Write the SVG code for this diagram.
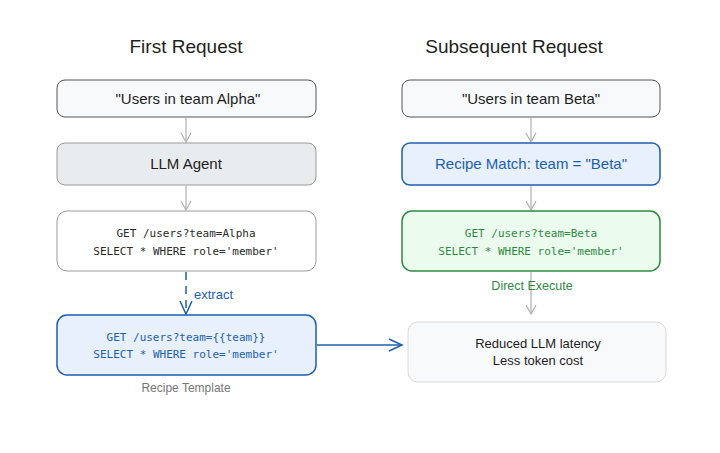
<svg xmlns="http://www.w3.org/2000/svg" width="720" height="453" viewBox="0 0 720 453">
<defs>
<style>
.hand{font-family:"Liberation Sans","DejaVu Sans",sans-serif;fill:#1e1e1e}
.mono{font-family:"DejaVu Sans Mono","Liberation Mono",monospace;font-size:11px}
.title{font-size:19px}
.lbl{font-size:15px}
.small{font-size:12px}
.gr{stroke:#b0b0b0;stroke-width:1.2;fill:none}
</style>
<marker id="ag" markerWidth="12" markerHeight="14" refX="10" refY="7" orient="auto" markerUnits="userSpaceOnUse">
<path d="M1,2 L10,7 L1,12" fill="none" stroke="#b0b0b0" stroke-width="1.2"/>
</marker>
<marker id="ab" markerWidth="16" markerHeight="16" refX="14" refY="8" orient="auto" markerUnits="userSpaceOnUse">
<path d="M1,2 L14,8 L1,14" fill="none" stroke="#1e5fae" stroke-width="1.5"/>
</marker>
</defs>
<rect width="720" height="453" fill="#ffffff"/>
<text class="hand title" x="186" y="53" text-anchor="middle">First Request</text>
<text class="hand title" x="514" y="53" text-anchor="middle">Subsequent Request</text>

<g id="connectors">
<line class="gr" x1="186" y1="118" x2="186" y2="142" marker-end="url(#ag)"/>
<line class="gr" x1="186" y1="186" x2="186" y2="210" marker-end="url(#ag)"/>
<line x1="186" y1="272" x2="186" y2="314" stroke="#1e5fae" stroke-width="1.5" stroke-dasharray="8,6" fill="none" marker-end="url(#ab)"/>
<text class="hand" x="194" y="299" style="fill:#1e5fae;font-size:13px">extract</text>
<line x1="317" y1="345" x2="402" y2="345" stroke="#1e5fae" stroke-width="1.5" fill="none" marker-end="url(#ab)"/>
<line class="gr" x1="531" y1="118" x2="531" y2="142" marker-end="url(#ag)"/>
<line class="gr" x1="531" y1="186" x2="531" y2="210" marker-end="url(#ag)"/>
<line class="gr" x1="531" y1="272" x2="531" y2="314" marker-end="url(#ag)"/>
<text class="hand" x="532" y="290" text-anchor="middle" style="fill:#2f8a3f;font-size:12.5px">Direct Execute</text>
</g>

<g id="n1">
<rect x="57" y="80" width="259" height="37" rx="8" fill="#f8f9fa" stroke="#555" stroke-width="1"/>
<text class="hand lbl" x="188" y="104" text-anchor="middle">"Users in team Alpha"</text>
</g>
<g id="n2">
<rect x="57" y="143" width="259" height="42" rx="8" fill="#e9ecef" stroke="#9a9a9a" stroke-width="1"/>
<text class="hand lbl" x="186" y="169" text-anchor="middle">LLM Agent</text>
</g>
<g id="n3">
<rect x="57" y="211" width="259" height="60" rx="10" fill="#ffffff" stroke="#9a9a9a" stroke-width="1"/>
<text class="mono" x="186" y="237" text-anchor="middle" fill="#2a2a2a">GET /users?team=Alpha</text>
<text class="mono" x="186" y="255" text-anchor="middle" fill="#2a2a2a">SELECT * WHERE role='member'</text>
</g>
<g id="n4">
<rect x="57" y="315" width="259" height="60" rx="10" fill="#e7f0fb" stroke="#1e5fae" stroke-width="1.5"/>
<text class="mono" x="186" y="341" text-anchor="middle" fill="#1e5fae">GET /users?team={{team}}</text>
<text class="mono" x="186" y="358" text-anchor="middle" fill="#1e5fae">SELECT * WHERE role='member'</text>
<text class="hand small" x="186" y="392" text-anchor="middle" style="fill:#777">Recipe Template</text>
</g>

<g id="m1">
<rect x="402" y="80" width="258" height="37" rx="8" fill="#f8f9fa" stroke="#555" stroke-width="1"/>
<text class="hand lbl" x="531" y="104" text-anchor="middle">"Users in team Beta"</text>
</g>
<g id="m2">
<rect x="402" y="143" width="258" height="42" rx="8" fill="#e7f0fb" stroke="#1e5fae" stroke-width="1.5"/>
<text class="hand lbl" x="531" y="169" text-anchor="middle" style="fill:#1e5fae">Recipe Match: team = "Beta"</text>
</g>
<g id="m3">
<rect x="402" y="211" width="258" height="60" rx="10" fill="#ebfbee" stroke="#2f8a3f" stroke-width="1.5"/>
<text class="mono" x="531" y="237" text-anchor="middle" fill="#2f8a3f">GET /users?team=Beta</text>
<text class="mono" x="531" y="255" text-anchor="middle" fill="#2f8a3f">SELECT * WHERE role='member'</text>
</g>
<g id="m4">
<rect x="408" y="322" width="258" height="60" rx="10" fill="#f8f9fa" stroke="#d8d8d8" stroke-width="1"/>
<text class="hand" x="538" y="348" text-anchor="middle" style="font-size:13px">Reduced LLM latency</text>
<text class="hand" x="538" y="365" text-anchor="middle" style="font-size:13px">Less token cost</text>
</g>
</svg>
